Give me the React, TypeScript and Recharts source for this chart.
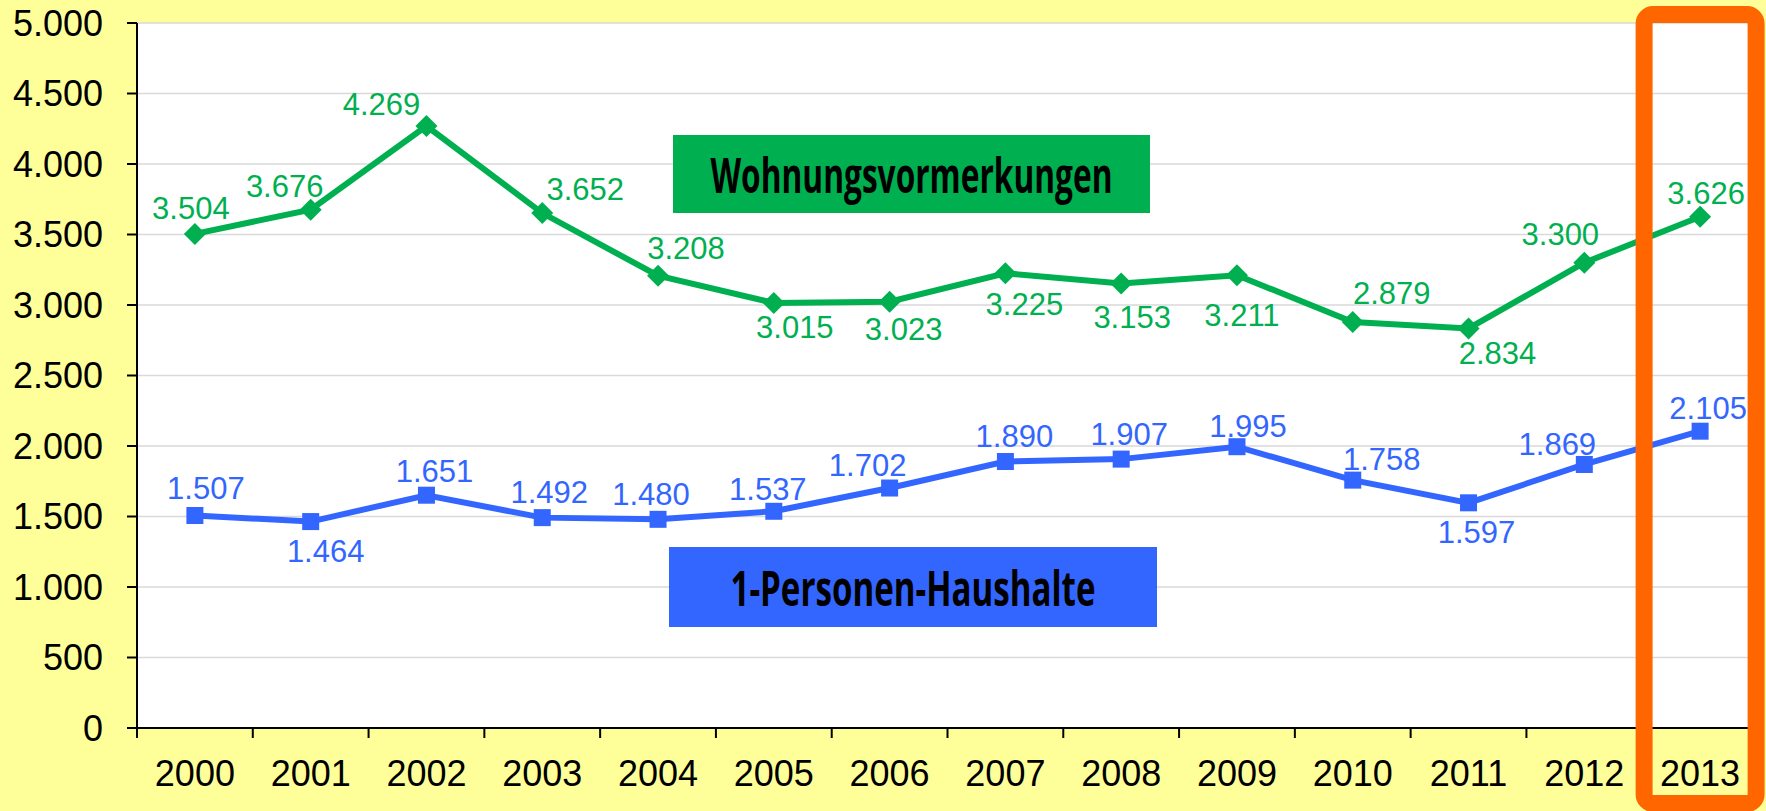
import { LineChart, Line, XAxis, YAxis, CartesianGrid } from "recharts";

const YEARS = ["2000", "2001", "2002", "2003", "2004", "2005", "2006", "2007", "2008", "2009", "2010", "2011", "2012", "2013"];
const VORMERKUNGEN = [3504, 3676, 4269, 3652, 3208, 3015, 3023, 3225, 3153, 3211, 2879, 2834, 3300, 3626];
const HAUSHALTE = [1507, 1464, 1651, 1492, 1480, 1537, 1702, 1890, 1907, 1995, 1758, 1597, 1869, 2105];
const Y_TICKS = [0, 500, 1000, 1500, 2000, 2500, 3000, 3500, 4000, 4500, 5000];
const HIGHLIGHT_YEAR = "2013";

// hand-placed label offsets (dx, dy), like the original excel chart
const GREEN_OFFSETS = [[-4, -25], [-26, -23], [-45, -22], [43, -24], [28, -27], [21, 25], [14, 28], [19, 31], [11, 34], [5, 40], [39, -29], [29, 25], [-24, -28], [6, -23]];
const BLUE_OFFSETS = [[11, -27], [15, 30], [8, -24], [7, -25], [-7, -25], [-6, -22], [-22, -23], [9, -25], [8, -25], [11, -20], [29, -21], [8, 30], [-27, -20], [8, -23]];

const W = 1766;
const H = 811;
const LEFT = 137;
const RIGHT = 8;
const TOP = 23;
const XAXIS_H = 83;
const PLOT_BOTTOM = H - XAXIS_H;
const BAND = (W - LEFT - RIGHT) / YEARS.length;

const GREEN = "#00B050";
const BLUE = "#3366FF";
const ORANGE = "#FF6600";
const FONT = "'Liberation Sans', Arial, sans-serif";

const data = YEARS.map((year, i) => ({ year, green: VORMERKUNGEN[i], blue: HAUSHALTE[i] }));

const fmt = (v: number) => String(v).replace(/\B(?=(\d{3})+(?!\d))/g, ".");

const Diamond = (p: any) => {
  const { cx, cy } = p;
  if (cx == null || cy == null) return null;
  const r = 11;
  return <path d={`M${cx},${cy - r}L${cx + r},${cy}L${cx},${cy + r}L${cx - r},${cy}Z`} fill={GREEN} />;
};

const Square = (p: any) => {
  const { cx, cy } = p;
  if (cx == null || cy == null) return null;
  const s = 17;
  return <rect x={cx - s / 2} y={cy - s / 2} width={s} height={s} fill={BLUE} />;
};

const makeLabel = (offsets: number[][], color: string) => (p: any) => {
  const { x, y, value, index } = p;
  const [dx, dy] = offsets[index] || [0, -25];
  return (
    <text x={x + dx} y={y + dy} textAnchor="middle" dominantBaseline="central"
      fill={color} fontSize={31} fontFamily={FONT}>
      {fmt(value)}
    </text>
  );
};

const XTick = (p: any) => {
  const { x, payload, index } = p;
  const left = x - BAND / 2;
  return (
    <g>
      <line x1={left} x2={left} y1={PLOT_BOTTOM} y2={PLOT_BOTTOM + 10} stroke="#000" strokeWidth={2} />
      {index === YEARS.length - 1 && (
        <line x1={x + BAND / 2} x2={x + BAND / 2} y1={PLOT_BOTTOM} y2={PLOT_BOTTOM + 10} stroke="#000" strokeWidth={2} />
      )}
      <text x={x} y={PLOT_BOTTOM + 32} dy="0.71em" textAnchor="middle" fill="#000" fontSize={36} fontFamily={FONT}>
        {payload.value}
      </text>
    </g>
  );
};

export default function App() {
  const hx = LEFT + BAND * (YEARS.indexOf(HIGHLIGHT_YEAR) + 0.5);
  return (
    <div style={{ position: "absolute", left: 0, top: 0, width: W, height: H, background: "#FFFF99" }}>
      <LineChart width={W} height={H} data={data} margin={{ top: TOP, right: RIGHT, bottom: 0, left: 0 }}>
        <CartesianGrid vertical={false} stroke="#D9D9D9" strokeWidth={1.5} fill="#FFFFFF" />
        <XAxis dataKey="year" height={XAXIS_H} interval={0} tickLine={false}
          padding={{ left: BAND / 2, right: BAND / 2 }}
          axisLine={{ stroke: "#000", strokeWidth: 2 }} tick={<XTick />} />
        <YAxis width={LEFT} domain={[0, 5000]} ticks={Y_TICKS} tickFormatter={fmt}
          tickSize={10} tickMargin={24} interval={0}
          axisLine={{ stroke: "#000", strokeWidth: 2 }} tickLine={{ stroke: "#000", strokeWidth: 2 }}
          tick={{ fill: "#000", fontSize: 36, fontFamily: FONT }} />
        <Line type="linear" dataKey="green" stroke={GREEN} strokeWidth={6} dot={<Diamond />}
          activeDot={false} isAnimationActive={false} label={makeLabel(GREEN_OFFSETS, GREEN)} />
        <Line type="linear" dataKey="blue" stroke={BLUE} strokeWidth={6} dot={<Square />}
          activeDot={false} isAnimationActive={false} label={makeLabel(BLUE_OFFSETS, BLUE)} />
      </LineChart>
      <svg width={W} height={H} style={{ position: "absolute", left: 0, top: 0, pointerEvents: "none" }}>
        <rect x={673} y={135} width={477} height={78} fill={GREEN} />
        <text x={911.5} y={174} textAnchor="middle" dominantBaseline="central" fontSize={48}
          fontWeight={700} fontFamily="'Open Sans', sans-serif" textLength={402} lengthAdjust="spacingAndGlyphs" fill="#000">
          Wohnungsvormerkungen
        </text>
        <rect x={669} y={547} width={488} height={80} fill={BLUE} />
        <text x={913} y={587} textAnchor="middle" dominantBaseline="central" fontSize={48}
          fontWeight={700} fontFamily="'Open Sans', sans-serif" textLength={365} lengthAdjust="spacingAndGlyphs" fill="#000">
          1-Personen-Haushalte
        </text>
        <rect x={hx - 56} y={TOP - 8.5} width={112} height={PLOT_BOTTOM - TOP + 84}
          fill="none" stroke={ORANGE} strokeWidth={17} rx={9} />
      </svg>
    </div>
  );
}
